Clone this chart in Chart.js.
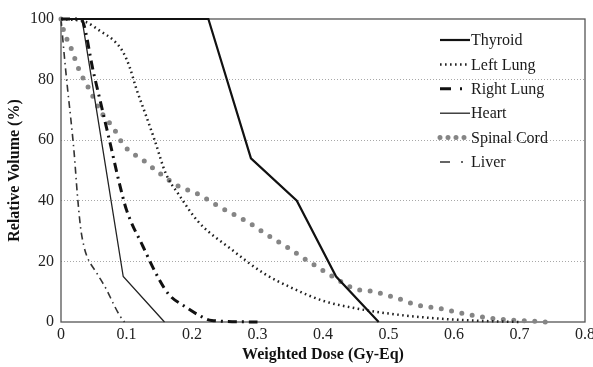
<!DOCTYPE html>
<html>
<head>
<meta charset="utf-8">
<script src="https://cdn.jsdelivr.net/npm/chart.js@4.4.0/dist/chart.umd.min.js"></script>
<style>
  html, body { margin: 0; padding: 0; background: #fff; }
</style>
</head>
<body>
<canvas id="dvh" width="593" height="367"></canvas>
<script>
// dose (Gy-Eq) / relative volume (%)
const thyroidDose = [0, 0.225, 0.29, 0.36, 0.42, 0.485];
const thyroidVol  = [100, 100, 54, 40, 15, 0];

const leftLungDose = [0, 0.038, 0.06, 0.08, 0.095, 0.105, 0.115, 0.13, 0.143, 0.16, 0.18, 0.21, 0.26, 0.31, 0.35, 0.4, 0.45, 0.5, 0.55, 0.6, 0.65, 0.7];
const leftLungVol  = [100, 99, 96, 93, 89, 84, 77, 68, 60, 49, 42, 33, 24, 16, 11.5, 7, 4.5, 2.8, 1.6, 0.8, 0.3, 0];

const rightLungDose = [0, 0.03, 0.05, 0.075, 0.09, 0.1, 0.125, 0.15, 0.165, 0.19, 0.21, 0.23, 0.3];
const rightLungVol  = [100, 100, 82, 59, 45, 37, 25, 14, 9, 5, 2.3, 0.5, 0];

const heartDose = [0, 0.032, 0.095, 0.158];
const heartVol  = [100, 100, 15, 0];

const spinalDose = [0, 0.003, 0.016, 0.028, 0.044, 0.059, 0.08, 0.097, 0.125, 0.151, 0.178, 0.211, 0.242, 0.285, 0.313, 0.343, 0.371, 0.4, 0.43, 0.447, 0.478, 0.511, 0.544, 0.577, 0.61, 0.642, 0.675, 0.72, 0.74];
const spinalVol  = [100, 97, 90, 83, 76.5, 70, 64, 58, 53.5, 49, 45, 42, 38, 33, 29, 25, 21, 17, 13, 11, 10, 8, 5.6, 4.5, 3, 1.7, 0.8, 0.3, 0];

const liverDose = [0, 0.005, 0.01, 0.015, 0.02, 0.025, 0.03, 0.035, 0.04, 0.055, 0.07, 0.08, 0.09, 0.097];
const liverVol  = [100, 88, 77, 67, 56, 42, 31, 25, 21.5, 16, 10.5, 6, 2, 0];

const organNames = ['Thyroid', 'Left Lung', 'Right Lung', 'Heart', 'Spinal Cord', 'Liver'];
const xTicks = [0, 0.1, 0.2, 0.3, 0.4, 0.5, 0.6, 0.7, 0.8];
const yTicks = [0, 20, 40, 60, 80, 100];

function toPoints(xs, ys) {
    return xs.map((x, i) => ({ x: x, y: ys[i] }));
}

const serif = '"Liberation Serif", "DejaVu Serif", serif';

// 凡例（プロット内の右上に描く）
const organLegend = {
    id: 'organLegend',
    afterDatasetsDraw(chart) {
        const ctx = chart.ctx;
        const area = chart.chartArea;
        const x0 = area.right - 145;
        const sampleW = 30;
        ctx.save();
        chart.data.datasets.forEach((ds, i) => {
            const y = area.top + 21 + i * 24.4;
            ctx.strokeStyle = ds.borderColor;
            ctx.lineWidth = ds.borderWidth;
            ctx.lineCap = ds.borderCapStyle || 'butt';
            ctx.setLineDash(ds.legendDash || ds.borderDash || []);
            ctx.beginPath();
            ctx.moveTo(x0, y);
            ctx.lineTo(x0 + sampleW, y);
            ctx.stroke();
            ctx.setLineDash([]);
            ctx.fillStyle = '#1a1a1a';
            ctx.font = '16px ' + serif;
            ctx.textAlign = 'left';
            ctx.textBaseline = 'middle';
            ctx.fillText(ds.label, x0 + sampleW + 1, y + 1);
        });
        ctx.restore();
    }
};

// プロット枠
const frameBox = {
    id: 'frameBox',
    beforeDatasetsDraw(chart) {
        const ctx = chart.ctx;
        const a = chart.chartArea;
        ctx.save();
        ctx.strokeStyle = '#555';
        ctx.lineWidth = 1.3;
        ctx.strokeRect(a.left, a.top, a.right - a.left, a.bottom - a.top);
        ctx.restore();
    }
};

const datasets = [
    {
        label: organNames[0],
        data: toPoints(thyroidDose, thyroidVol),
        borderColor: '#111',
        borderWidth: 2.2
    },
    {
        label: organNames[1],
        data: toPoints(leftLungDose, leftLungVol),
        borderColor: '#222',
        borderWidth: 2.5,
        borderDash: [1.6, 3.4],
        cubicInterpolationMode: 'monotone'
    },
    {
        label: organNames[2],
        data: toPoints(rightLungDose, rightLungVol),
        borderColor: '#111',
        borderWidth: 3,
        borderDash: [9, 5, 2, 5],
        legendDash: [11, 9, 2, 8],
        cubicInterpolationMode: 'monotone'
    },
    {
        label: organNames[3],
        data: toPoints(heartDose, heartVol),
        borderColor: '#222',
        borderWidth: 1.3
    },
    {
        label: organNames[4],
        data: toPoints(spinalDose, spinalVol),
        borderColor: '#858585',
        borderWidth: 5,
        borderCapStyle: 'round',
        borderDash: [0, 10.5],
        legendDash: [0, 8],
        cubicInterpolationMode: 'monotone'
    },
    {
        label: organNames[5],
        data: toPoints(liverDose, liverVol),
        borderColor: '#333',
        borderWidth: 1.6,
        borderDash: [7, 4, 1.5, 4],
        legendDash: [10, 11, 2, 8],
        cubicInterpolationMode: 'monotone'
    }
];

new Chart(document.getElementById('dvh'), {
    type: 'line',
    data: { datasets: datasets },
    options: {
        responsive: false,
        animation: false,
        clip: false,
        layout: { padding: { left: 0, top: 19, right: 8, bottom: 0 } },
        elements: { point: { radius: 0 }, line: { tension: 0 } },
        plugins: {
            legend: { display: false },
            tooltip: { enabled: false }
        },
        scales: {
            x: {
                type: 'linear',
                min: xTicks[0],
                max: xTicks[xTicks.length - 1],
                afterBuildTicks: (scale) => { scale.ticks = xTicks.map(v => ({ value: v })); },
                afterFit: (scale) => { scale.height = 45; scale.paddingLeft = 0; scale.paddingRight = 0; },
                grid: { display: false, drawTicks: false },
                border: { display: false },
                ticks: {
                    color: '#222',
                    padding: 3,
                    maxRotation: 0,
                    font: { family: serif, size: 16 },
                    callback: (v) => v === 0 ? '0' : v.toFixed(1)
                },
                title: {
                    display: true,
                    text: 'Weighted Dose (Gy-Eq)',
                    color: '#111',
                    padding: { top: 0, bottom: 3 },
                    font: { family: serif, size: 16, weight: 'bold' }
                }
            },
            y: {
                min: yTicks[0],
                max: yTicks[yTicks.length - 1],
                afterBuildTicks: (scale) => { scale.ticks = yTicks.map(v => ({ value: v })); },
                afterFit: (scale) => { scale.width = 61; scale.paddingTop = 0; scale.paddingBottom = 0; },
                grid: {
                    drawTicks: false,
                    color: (c) => (c.tick && (c.tick.value === 0 || c.tick.value === 100)) ? 'rgba(0,0,0,0)' : '#a8a8a8',
                    lineWidth: 1
                },
                border: { display: false, dash: [1, 2] },
                ticks: {
                    color: '#222',
                    padding: 7,
                    font: { family: serif, size: 16 }
                },
                title: {
                    display: true,
                    text: 'Relative Volume (%)',
                    color: '#111',
                    padding: { top: 5, bottom: 0 },
                    font: { family: serif, size: 16, weight: 'bold' }
                }
            }
        }
    },
    plugins: [frameBox, organLegend]
});
</script>
</body>
</html>
